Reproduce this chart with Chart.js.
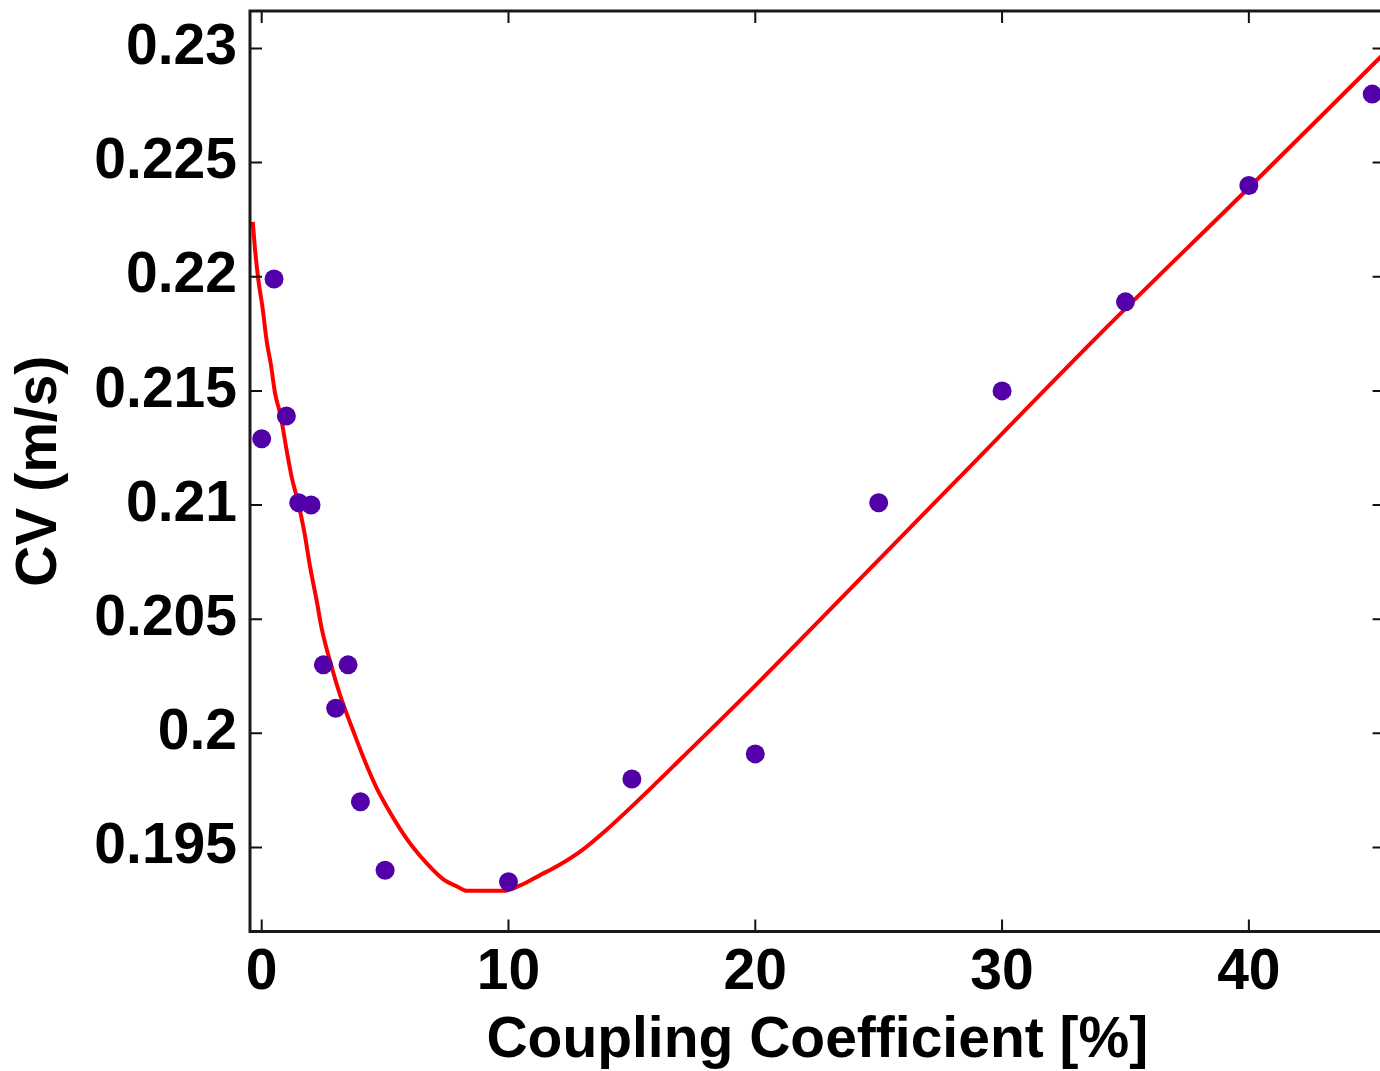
<!DOCTYPE html>
<html>
<head>
<meta charset="utf-8">
<title>CV vs Coupling Coefficient</title>
<style>
  html, body { margin: 0; padding: 0; background: #ffffff; overflow: hidden; }
  #wrap { position: relative; width: 1400px; height: 1071px; }
</style>
<script src="https://cdn.jsdelivr.net/npm/chart.js@4.4.1/dist/chart.umd.min.js"></script>
</head>
<body>
<div id="wrap"><canvas id="cvChart"></canvas></div>
<script>
// Measured conduction velocity at each coupling coefficient
const couplingPct = [0, 0.5, 1, 1.5, 2, 2.5, 3, 3.5, 4, 5, 10, 15, 20, 25, 30, 35, 40, 45];
const cvMeasured  = [0.2129, 0.2199, 0.2139, 0.2101, 0.2100, 0.2030, 0.2011, 0.2030, 0.1970,
                     0.1940, 0.1935, 0.1980, 0.1991, 0.2101, 0.2150, 0.2189, 0.2240, 0.2280];

// Fitted trend curve
const fitPct = [-0.36, -0.27, -0.14, 0.04, 0.2, 0.38, 0.54, 0.77, 1.01, 1.22, 1.48, 1.73, 1.96,
                2.23, 2.43, 2.89, 3.17, 3.78, 4.25, 4.66, 5.06, 5.74, 6.14, 6.69, 7.36, 7.9,
                8.31, 9.79, 10.5, 11.3, 12, 13, 14, 15, 17, 20.19, 25, 28.17, 33.97, 40, 45.5];
const fitCV  = [0.2224, 0.2212, 0.2199, 0.2186, 0.2172, 0.2161, 0.2149, 0.2139, 0.2124, 0.2112,
                0.2101, 0.2088, 0.2073, 0.2058, 0.2046, 0.2027, 0.2017, 0.1999, 0.1986, 0.1976,
                0.1968, 0.1956, 0.1950, 0.1943, 0.1936, 0.1933, 0.1931, 0.1931, 0.19335, 0.1938,
                0.1942, 0.1949, 0.1958, 0.1968, 0.1989, 0.2023, 0.2076, 0.2111, 0.2175, 0.2239,
                0.2298];

// Axis ticks
const xTickValues = [0, 10, 20, 30, 40];
const yTickValues = [0.195, 0.2, 0.205, 0.21, 0.215, 0.22, 0.225, 0.23];
const yTickLabels = ['0.195', '0.2', '0.205', '0.21', '0.215', '0.22', '0.225', '0.23'];

const FONT = "'Liberation Sans', Arial, Helvetica, sans-serif";
Chart.defaults.font.family = FONT;
Chart.defaults.color = '#000000';

// Boxed frame with inward-pointing tick marks on all four sides
const frameTicks = {
  id: 'frameTicks',
  afterDatasetsDraw(chart) {
    const { ctx, chartArea: a, scales: { x, y } } = chart;
    const len = 12;
    ctx.save();
    ctx.strokeStyle = '#111111';
    ctx.lineWidth = 2;
    ctx.beginPath();
    x.ticks.forEach(t => {
      const px = x.getPixelForValue(t.value);
      ctx.moveTo(px, a.bottom); ctx.lineTo(px, a.bottom - len);
      ctx.moveTo(px, a.top);    ctx.lineTo(px, a.top + len);
    });
    y.ticks.forEach(t => {
      const py = y.getPixelForValue(t.value);
      ctx.moveTo(a.left, py);  ctx.lineTo(a.left + len, py);
      ctx.moveTo(a.right, py); ctx.lineTo(a.right - len, py);
    });
    ctx.stroke();
    ctx.lineWidth = 3;
    ctx.strokeStyle = '#1a1a1a';
    ctx.strokeRect(a.left, a.top, a.right - a.left, a.bottom - a.top);
    ctx.restore();
  }
};

const measuredPoints = couplingPct.map((v, i) => ({ x: v, y: cvMeasured[i] }));
const fitPoints = fitPct.map((v, i) => ({ x: v, y: fitCV[i] }));

// Fixed axis footprint so the plot box sits where intended
function fixScaleBox(size) {
  return s => {
    if (s.isHorizontal()) { s.height = size; } else { s.width = size; }
    s.paddingTop = 0; s.paddingBottom = 0; s.paddingLeft = 0; s.paddingRight = 0;
  };
}

new Chart(document.getElementById('cvChart'), {
  type: 'scatter',
  data: {
    datasets: [
      {
        label: 'Measured',
        data: measuredPoints,
        pointRadius: 9.5,
        pointHoverRadius: 9.5,
        pointStyle: 'circle',
        backgroundColor: '#5200a8',
        borderWidth: 0
      },
      {
        label: 'Fit',
        data: fitPoints,
        showLine: true,
        pointRadius: 0,
        borderColor: '#ff0000',
        borderWidth: 4,
        cubicInterpolationMode: 'monotone',
        fill: false
      }
    ]
  },
  options: {
    responsive: true,
    maintainAspectRatio: false,
    animation: false,
    layout: { padding: { left: 0, top: 11, right: 15.4, bottom: 0 } },
    plugins: { legend: { display: false }, tooltip: { enabled: false } },
    scales: {
      x: {
        type: 'linear',
        min: -0.474,
        max: 45.5,
        grid: { display: false, drawTicks: false },
        border: { display: false },
        afterBuildTicks: s => { s.ticks = xTickValues.map(v => ({ value: v })); },
        afterFit: fixScaleBox(139.5),
        ticks: {
          autoSkip: false,
          maxRotation: 0,
          padding: 8,
          color: '#000000',
          font: { size: 57, weight: 'bold', family: FONT },
          callback: v => String(v)
        },
        title: {
          display: true,
          text: 'Coupling Coefficient [%]',
          color: '#000000',
          font: { size: 57, weight: 'bold', family: FONT, lineHeight: 1 },
          padding: { top: 0, bottom: 1.5 }
        }
      },
      y: {
        type: 'linear',
        min: 0.19132,
        max: 0.23164,
        grid: { display: false, drawTicks: false },
        border: { display: false },
        afterBuildTicks: s => { s.ticks = yTickValues.map(v => ({ value: v })); },
        afterFit: fixScaleBox(250),
        ticks: {
          autoSkip: false,
          padding: 13,
          color: '#000000',
          font: { size: 57, weight: 'bold', family: FONT },
          callback: (v, i) => yTickLabels[i]
        },
        title: {
          display: true,
          text: 'CV (m/s)',
          color: '#000000',
          font: { size: 57, weight: 'bold', family: FONT },
          padding: { top: 6, bottom: 0 }
        }
      }
    }
  },
  plugins: [frameTicks]
});
</script>
</body>
</html>
